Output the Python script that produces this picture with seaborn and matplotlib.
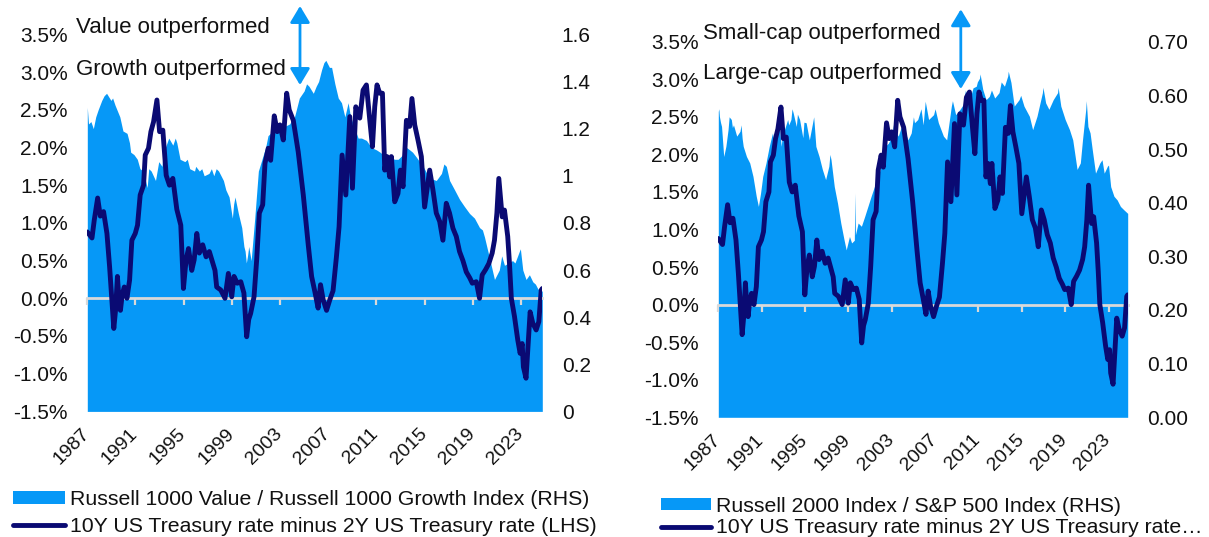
import numpy as np
import pandas as pd
import matplotlib
matplotlib.use("Agg")
import matplotlib.pyplot as plt
import matplotlib.transforms as mtrans
from matplotlib.patches import Patch, FancyArrowPatch
from matplotlib.lines import Line2D
import seaborn as sns

# ---------------- data ----------------
# 10Y minus 2Y US Treasury spread, % (LHS) -- same series in both panels
spread_year = [1987.00, 1987.39, 1987.58, 1987.86, 1988.08, 1988.35, 1988.63, 1988.85, 1989.04,
               1989.20, 1989.35, 1989.50, 1989.60, 1989.75, 1989.90, 1990.07, 1990.29, 1990.51,
               1990.70, 1990.98, 1991.17, 1991.39, 1991.67, 1991.81, 1992.08, 1992.28, 1992.50,
               1992.78, 1993.00, 1993.27, 1993.55, 1993.82, 1994.10, 1994.43, 1994.76, 1994.98,
               1995.20, 1995.40, 1995.67, 1995.87, 1996.09, 1996.30, 1996.58, 1996.86, 1997.13,
               1997.41, 1997.60, 1997.74, 1998.08, 1998.43, 1998.71, 1998.99, 1999.18, 1999.45,
               1999.74, 2000.00, 2000.23, 2000.40, 2000.56, 2000.84, 2001.06, 2001.28, 2001.56,
               2001.75, 2002.02, 2002.22, 2002.52, 2002.77, 2002.99, 2003.27, 2003.55, 2003.76,
               2004.10, 2004.51, 2004.93, 2005.34, 2005.62, 2005.90, 2006.16, 2006.36, 2006.58,
               2006.86, 2007.13, 2007.40, 2007.68, 2007.90, 2008.15, 2008.46, 2008.79, 2009.01,
               2009.29, 2009.62, 2009.89, 2010.17, 2010.45, 2010.67, 2010.86, 2011.05, 2011.27,
               2011.50, 2011.69, 2011.88, 2012.10, 2012.24, 2012.52, 2012.79, 2012.99, 2013.21,
               2013.49, 2013.76, 2013.95, 2014.18, 2014.45, 2014.73, 2015.00, 2015.42, 2015.69,
               2015.97, 2016.25, 2016.52, 2016.80, 2017.07, 2017.35, 2017.63, 2017.90, 2018.18,
               2018.46, 2018.75, 2018.96, 2019.29, 2019.56, 2019.78, 2020.06, 2020.33, 2020.61,
               2020.80, 2021.00, 2021.16, 2021.44, 2021.63, 2021.90, 2022.05, 2022.20, 2022.46,
               2022.73, 2022.93, 2023.10, 2023.20, 2023.42, 2023.56, 2023.76, 2023.98, 2024.26,
               2024.48, 2024.68, 2024.77]
spread_pct = [0.88, 0.80, 1.04, 1.33, 1.09, 1.15, 0.86, 0.42, -0.02,
              -0.40, -0.15, 0.29, 0.05, -0.16, 0.05, 0.15, 0.00, 0.24,
              0.77, 0.86, 0.97, 1.37, 1.50, 1.90, 1.99, 2.21, 2.34,
              2.63, 2.21, 2.23, 1.63, 1.50, 1.59, 1.18, 0.97, 0.13,
              0.51, 0.66, 0.37, 0.51, 0.86, 0.60, 0.71, 0.55, 0.62,
              0.47, 0.37, 0.15, 0.11, 0.00, 0.33, 0.02, 0.29, 0.20,
              0.22, 0.07, -0.51, -0.28, -0.20, 0.02, 0.51, 1.13, 1.24,
              1.79, 1.99, 1.83, 2.42, 2.21, 2.30, 2.10, 2.72, 2.50,
              2.36, 1.94, 1.37, 0.71, 0.29, 0.08, -0.13, 0.18, -0.02,
              -0.16, -0.02, 0.10, 0.55, 0.95, 1.90, 1.37, 2.41, 1.46,
              2.54, 2.39, 2.76, 2.83, 2.36, 2.01, 2.54, 2.83, 2.72,
              2.72, 1.70, 1.88, 1.61, 1.88, 1.28, 1.39, 1.70, 1.48,
              2.36, 2.28, 2.65, 2.30, 2.10, 1.88, 1.21, 1.70, 1.44,
              1.13, 1.02, 0.77, 1.26, 1.13, 0.93, 0.82, 0.62, 0.50,
              0.35, 0.27, 0.20, 0.22, 0.00, 0.31, 0.38, 0.46, 0.60,
              0.77, 1.13, 1.59, 1.08, 1.17, 0.82, 0.45, 0.00, -0.24,
              -0.55, -0.73, -0.60, -0.91, -1.06, -0.69, -0.18, -0.33, -0.42,
              -0.31, 0.11, 0.13]

# Russell 1000 Value / Russell 1000 Growth (RHS, left panel)
value_growth_year = [1987.00, 1987.10, 1987.30, 1987.50, 1987.70, 1987.90, 1988.20, 1988.40, 1988.60,
                     1988.96, 1989.10, 1989.30, 1989.70, 1989.96, 1990.30, 1990.50, 1990.60, 1990.87,
                     1991.15, 1991.37, 1991.64, 1991.97, 1992.10, 1992.30, 1992.66, 1992.93, 1993.20,
                     1993.30, 1993.48, 1993.76, 1994.10, 1994.30, 1994.43, 1994.70, 1995.10, 1995.30,
                     1995.50, 1995.90, 1996.00, 1996.30, 1996.50, 1996.70, 1997.10, 1997.30, 1997.50,
                     1997.70, 1997.90, 1998.10, 1998.30, 1998.50, 1998.77, 1999.04, 1999.15, 1999.26,
                     1999.54, 1999.82, 2000.00, 2000.10, 2000.20, 2000.30, 2000.40, 2000.60, 2000.90,
                     2001.20, 2001.50, 2001.80, 2002.00, 2002.20, 2002.50, 2002.80, 2003.00, 2003.40,
                     2003.80, 2004.00, 2004.20, 2004.60, 2005.00, 2005.20, 2005.40, 2005.76, 2006.00,
                     2006.20, 2006.45, 2006.64, 2006.80, 2007.00, 2007.10, 2007.28, 2007.55, 2007.83,
                     2008.10, 2008.38, 2008.65, 2008.85, 2009.07, 2009.48, 2009.76, 2010.17, 2010.58,
                     2011.00, 2011.30, 2011.54, 2012.10, 2012.50, 2012.80, 2013.20, 2013.50, 2013.76,
                     2014.00, 2014.30, 2014.87, 2015.40, 2015.97, 2016.40, 2016.60, 2016.80, 2017.07,
                     2017.49, 2017.90, 2018.30, 2018.73, 2019.14, 2019.56, 2019.80, 2019.97, 2020.39,
                     2020.80, 2021.20, 2021.40, 2021.63, 2022.30, 2022.50, 2022.87, 2022.95, 2023.15,
                     2023.42, 2023.70, 2023.98, 2024.20, 2024.40, 2024.77]
value_growth_ratio = [1.29, 1.22, 1.23, 1.20, 1.25, 1.28, 1.32, 1.34, 1.35,
                      1.32, 1.33, 1.30, 1.25, 1.19, 1.18, 1.14, 1.10, 1.09,
                      1.07, 1.03, 1.02, 0.95, 1.03, 1.02, 0.98, 1.06, 1.04,
                      1.10, 1.12, 1.16, 1.13, 1.16, 1.14, 1.07, 1.06, 1.07,
                      1.03, 1.02, 1.04, 1.02, 1.03, 1.00, 1.01, 1.03, 1.00,
                      1.03, 1.02, 1.00, 0.98, 0.94, 0.91, 0.82, 0.88, 0.91,
                      0.84, 0.78, 0.70, 0.68, 0.63, 0.66, 0.70, 0.64, 0.82,
                      1.02, 1.07, 1.12, 1.17, 1.18, 1.22, 1.22, 1.19, 1.21,
                      1.22, 1.24, 1.25, 1.33, 1.36, 1.39, 1.38, 1.35, 1.38,
                      1.40, 1.45, 1.48, 1.49, 1.47, 1.46, 1.46, 1.39, 1.33,
                      1.31, 1.25, 1.31, 1.25, 1.22, 1.16, 1.16, 1.15, 1.12,
                      1.11, 1.10, 1.09, 1.08, 1.07, 1.07, 1.09, 1.12, 1.11,
                      1.10, 1.08, 1.04, 0.99, 0.98, 1.01, 1.05, 1.04, 0.98,
                      0.94, 0.90, 0.87, 0.84, 0.82, 0.78, 0.77, 0.74, 0.65,
                      0.56, 0.60, 0.66, 0.62, 0.64, 0.63, 0.68, 0.69, 0.60,
                      0.56, 0.58, 0.55, 0.54, 0.52, 0.51]

# Russell 2000 / S&P 500 (RHS, right panel)
small_large_year = [1987.00, 1987.05, 1987.10, 1987.20, 1987.30, 1987.50, 1987.70, 1987.90, 1988.00,
                    1988.20, 1988.30, 1988.40, 1988.70, 1989.00, 1989.10, 1989.20, 1989.30, 1989.60,
                    1989.90, 1990.20, 1990.50, 1990.70, 1990.90, 1991.10, 1991.40, 1991.70, 1992.00,
                    1992.20, 1992.50, 1992.60, 1992.80, 1993.00, 1993.10, 1993.40, 1993.50, 1993.70,
                    1993.80, 1993.90, 1994.20, 1994.30, 1994.50, 1994.80, 1994.90, 1995.10, 1995.40,
                    1995.70, 1995.80, 1996.00, 1996.30, 1996.60, 1996.90, 1997.20, 1997.30, 1997.40,
                    1997.70, 1998.00, 1998.30, 1998.60, 1998.80, 1999.10, 1999.30, 1999.55, 1999.60,
                    1999.65, 1999.90, 2000.20, 2000.50, 2000.80, 2001.10, 2001.40, 2001.70, 2001.90,
                    2002.10, 2002.40, 2002.70, 2003.00, 2003.20, 2003.30, 2003.60, 2003.90, 2004.20,
                    2004.50, 2004.80, 2005.00, 2005.10, 2005.40, 2005.70, 2005.90, 2006.09, 2006.40,
                    2006.86, 2007.00, 2007.30, 2007.77, 2008.07, 2008.50, 2008.60, 2008.90, 2009.30,
                    2009.60, 2009.80, 2009.90, 2010.20, 2010.50, 2010.80, 2010.90, 2011.10, 2011.15,
                    2011.40, 2011.70, 2012.00, 2012.20, 2012.50, 2012.90, 2013.10, 2013.40, 2013.70,
                    2013.75, 2014.00, 2014.30, 2014.75, 2014.90, 2015.20, 2015.70, 2016.00, 2016.40,
                    2016.90, 2016.95, 2017.20, 2017.50, 2017.90, 2018.30, 2018.35, 2018.60, 2019.00,
                    2019.40, 2019.70, 2020.10, 2020.40, 2020.60, 2020.90, 2020.95, 2021.10, 2021.30,
                    2021.50, 2021.80, 2022.20, 2022.40, 2022.60, 2022.90, 2023.00, 2023.20, 2023.50,
                    2023.80, 2024.10, 2024.40, 2024.77]
small_large_ratio = [0.570, 0.575, 0.561, 0.550, 0.542, 0.486, 0.505, 0.536, 0.560,
                     0.555, 0.540, 0.545, 0.524, 0.533, 0.545, 0.520, 0.505, 0.486,
                     0.474, 0.449, 0.412, 0.393, 0.418, 0.449, 0.474, 0.505, 0.530,
                     0.505, 0.536, 0.550, 0.505, 0.540, 0.536, 0.555, 0.545, 0.555,
                     0.575, 0.568, 0.542, 0.565, 0.555, 0.521, 0.550, 0.549, 0.517,
                     0.549, 0.560, 0.505, 0.486, 0.462, 0.443, 0.468, 0.490, 0.480,
                     0.430, 0.399, 0.362, 0.331, 0.312, 0.337, 0.325, 0.330, 0.418,
                     0.340, 0.362, 0.356, 0.374, 0.393, 0.412, 0.430, 0.443, 0.460,
                     0.486, 0.505, 0.511, 0.524, 0.550, 0.536, 0.524, 0.542, 0.533,
                     0.517, 0.530, 0.560, 0.549, 0.555, 0.575, 0.545, 0.589, 0.555,
                     0.564, 0.575, 0.549, 0.524, 0.517, 0.580, 0.590, 0.564, 0.574,
                     0.583, 0.610, 0.598, 0.592, 0.614, 0.617, 0.625, 0.632, 0.640,
                     0.611, 0.592, 0.598, 0.610, 0.595, 0.605, 0.625, 0.617, 0.636,
                     0.645, 0.624, 0.580, 0.592, 0.600, 0.580, 0.561, 0.536, 0.561,
                     0.605, 0.615, 0.586, 0.574, 0.592, 0.605, 0.615, 0.580, 0.555,
                     0.536, 0.517, 0.462, 0.474, 0.517, 0.574, 0.590, 0.542, 0.530,
                     0.499, 0.455, 0.474, 0.480, 0.455, 0.468, 0.470, 0.430, 0.412,
                     0.405, 0.393, 0.387, 0.380]

tick_years = [1987, 1991, 1995, 1999, 2003, 2007, 2011, 2015, 2019, 2023]
tick_labels = [str(y) for y in tick_years]

lhs_ticks = [-1.5, -1.0, -0.5, 0.0, 0.5, 1.0, 1.5, 2.0, 2.5, 3.0, 3.5]
lhs_labels = ["-1.5%", "-1.0%", "-0.5%", "0.0%", "0.5%", "1.0%", "1.5%", "2.0%", "2.5%", "3.0%", "3.5%"]
rhs1_ticks = [0, 0.2, 0.4, 0.6, 0.8, 1.0, 1.2, 1.4, 1.6]
rhs1_labels = ["0", "0.2", "0.4", "0.6", "0.8", "1", "1.2", "1.4", "1.6"]
rhs2_ticks = [0, 0.1, 0.2, 0.3, 0.4, 0.5, 0.6, 0.7]
rhs2_labels = ["0.00", "0.10", "0.20", "0.30", "0.40", "0.50", "0.60", "0.70"]

legend1 = ["Russell 1000 Value / Russell 1000 Growth Index (RHS)",
           "10Y US Treasury rate minus 2Y US Treasury rate (LHS)"]
legend2 = ["Russell 2000 Index / S&P 500 Index (RHS)",
           "10Y US Treasury rate minus 2Y US Treasury rate\u2026"]
ann1 = ["Value outperformed", "Growth outperformed"]
ann2 = ["Small-cap outperformed", "Large-cap outperformed"]

# ---------------- style ----------------
AREA_BLUE = "#0698F7"
NAVY = "#0A0A73"
GRAY = "#D9D9D9"
TXT = "#111111"

sns.set_theme(style="white")
plt.rcParams["font.family"] = ["Liberation Sans", "DejaVu Sans"]

W, H = 1209, 537
fig = plt.figure(figsize=(W / 100, H / 100), dpi=100)


def fx(px):
    return px / W


def fy(py):
    return 1 - py / H


def draw_panel(left, right, top, bottom, area_year, area_val, rhs_ticks, rhs_labels):
    ax_area = fig.add_axes([fx(left), fy(bottom), (right - left) / W, (bottom - top) / H])
    ax_area.fill_between(area_year, area_val, 0, color=AREA_BLUE, lw=0, zorder=1)
    ax_area.set_ylim(rhs_ticks[0], rhs_ticks[-1])
    ax_area.set_xlim(min(area_year), max(area_year))

    ax_line = ax_area.twinx()
    df = pd.DataFrame({"year": spread_year, "spread": spread_pct})
    sns.lineplot(data=df, x="year", y="spread", ax=ax_line, color=NAVY, lw=3.5,
                 estimator=None, sort=False, legend=False, zorder=3)
    ax_line.set_ylim(lhs_ticks[0], lhs_ticks[-1])
    ax_line.set_xlim(min(area_year), max(area_year))
    ax_line.set_xlabel("")
    ax_line.set_ylabel("")

    # axes sides: LHS = spread, RHS = ratio
    ax_line.yaxis.tick_left()
    ax_area.yaxis.tick_right()
    ax_line.set_yticks(lhs_ticks)
    ax_line.set_yticklabels(lhs_labels)
    ax_area.set_yticks(rhs_ticks)
    ax_area.set_yticklabels(rhs_labels)
    for a in (ax_line, ax_area):
        a.tick_params(axis="y", length=0, pad=14, labelsize=15, labelcolor=TXT)
        for s in a.spines.values():
            s.set_visible(False)
        a.grid(False)

    # x labels at bottom
    ax_area.set_xticks(tick_years)
    ax_area.set_xticklabels(tick_labels, rotation=45, ha="right")
    ax_area.tick_params(axis="x", length=0, pad=10, labelsize=14, labelcolor=TXT)
    off = mtrans.ScaledTranslation(4 / 72, 0, fig.dpi_scale_trans)
    for lab in ax_area.get_xticklabels():
        lab.set_transform(lab.get_transform() + off)

    # zero line with tick marks
    zero_frac = (0 - lhs_ticks[0]) / (lhs_ticks[-1] - lhs_ticks[0])
    sec = ax_line.secondary_xaxis(zero_frac)
    sec.set_xticks(tick_years)
    sec.tick_params(axis="x", length=5, width=1.6, color=GRAY, labelbottom=False,
                    labeltop=False, direction="out")
    for s in sec.spines.values():
        s.set_color(GRAY)
        s.set_linewidth(2)
    return ax_area, ax_line


draw_panel(87.3, 542.3, 34.4, 411.4, value_growth_year, value_growth_ratio, rhs1_ticks, rhs1_labels)
draw_panel(718.3, 1127.7, 41.7, 417.3, small_large_year, small_large_ratio, rhs2_ticks, rhs2_labels)

# annotations
fig.text(fx(75.8), fy(27.5), ann1[0], fontsize=16, va="center", ha="left", color=TXT)
fig.text(fx(75.8), fy(70), ann1[1], fontsize=16, va="center", ha="left", color=TXT)
fig.text(fx(703), fy(34), ann2[0], fontsize=16, va="center", ha="left", color=TXT)
fig.text(fx(703), fy(73.5), ann2[1], fontsize=16, va="center", ha="left", color=TXT)

for xa, y0, y1 in [(300, 6, 85), (960.8, 9.3, 89)]:
    arr = FancyArrowPatch((fx(xa), fy(y1)), (fx(xa), fy(y0)), transform=fig.transFigure,
                          arrowstyle="<|-|>,head_length=1.0,head_width=0.6",
                          mutation_scale=10, color=AREA_BLUE, lw=2, shrinkA=0, shrinkB=0)
    fig.add_artist(arr)

# legends
def make_handles():
    return [Patch(facecolor=AREA_BLUE, edgecolor="none"),
            Line2D([], [], color=NAVY, lw=3.5)]

fig.legend(handles=make_handles(), labels=legend1, loc="upper left",
           bbox_to_anchor=(fx(12.7), fy(490)), frameon=False, borderpad=0, borderaxespad=0,
           handlelength=2.45, handleheight=0.5, handletextpad=0.25, labelspacing=0.38,
           fontsize=15.3, labelcolor=TXT)
fig.legend(handles=make_handles(), labels=legend2, loc="upper left",
           bbox_to_anchor=(fx(661), fy(496.5)), frameon=False, borderpad=0, borderaxespad=0,
           handlelength=2.35, handleheight=0.5, handletextpad=0.25, labelspacing=0.14,
           fontsize=15.3, labelcolor=TXT)

fig.savefig("out.png", dpi=100)
